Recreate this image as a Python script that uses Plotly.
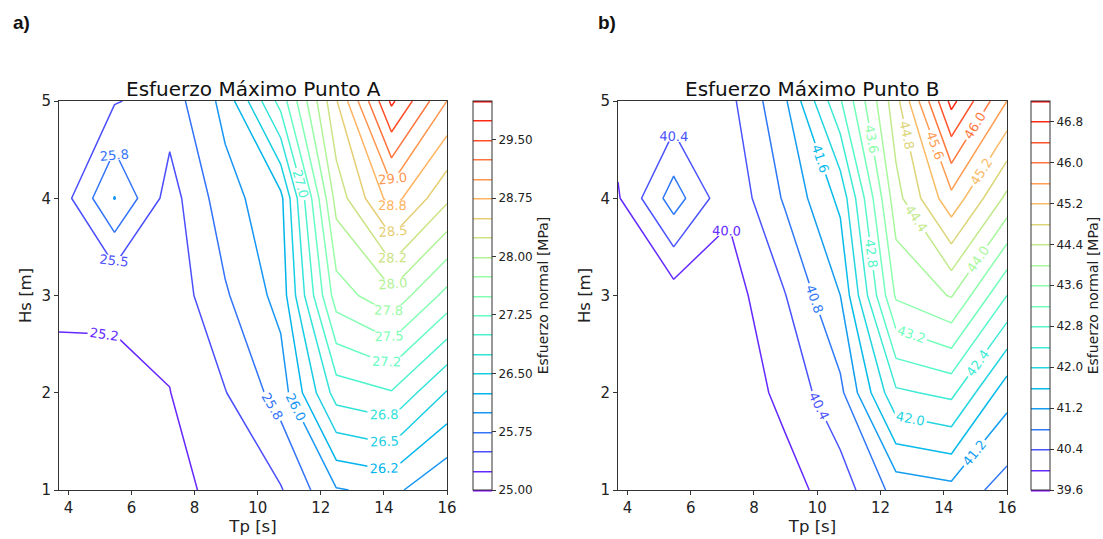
import numpy as np
import plotly.graph_objects as go

# Sea-state grid: peak period (columns) and significant wave height (rows)
tp = [3.7, 5.46, 7.21, 8.97, 10.73, 12.49, 14.24, 16.0]
hs = [1, 2, 3, 4, 5]

# Maximum normal stress at point A [MPa], one row per Hs value
stress_a = [
    [25.02, 25.08, 25.20, 25.30, 25.48, 25.98, 26.07, 25.76],
    [25.15, 25.22, 25.245, 25.49, 25.86, 26.86, 26.98, 26.48],
    [25.31, 25.27, 25.33, 25.72, 26.09, 27.63, 27.93, 27.42],
    [25.35, 26.01, 25.39, 25.90, 26.18, 28.10, 28.86, 28.30],
    [25.30, 25.48, 25.62, 26.08, 27.10, 28.48, 29.80, 29.00],
]

# Maximum normal stress at point B [MPa]
stress_b = [
    [39.62, 39.64, 39.70, 39.85, 40.19, 40.94, 41.07, 40.62],
    [39.68, 39.70, 39.75, 40.10, 40.70, 42.33, 42.50, 41.35],
    [39.75, 39.80, 39.80, 40.38, 41.20, 43.66, 44.03, 42.80],
    [39.96, 41.00, 40.08, 40.85, 41.70, 44.25, 45.48, 44.30],
    [40.20, 40.12, 40.29, 41.13, 42.76, 44.66, 46.93, 45.60],
]

levels_a = (25.0, 30.0, 0.25)
levels_b = (39.6, 47.2, 0.4)
cbar_ticks_a = [25.00, 25.75, 26.50, 27.25, 28.00, 28.75, 29.50]
cbar_ticks_b = [39.6, 40.4, 41.2, 42.0, 42.8, 43.6, 44.4, 45.2, 46.0, 46.8]
x_ticks = [4, 6, 8, 10, 12, 14, 16]
y_ticks = [1, 2, 3, 4, 5]

W, H = 1103, 539
FONT = "DejaVu Sans"


def rainbow(v):
    v = min(max(v, 0.0), 1.0)
    r = min(1.0, abs(2 * v - 0.5))
    g = min(1.0, max(0.0, np.sin(np.pi * v)))
    b = min(1.0, max(0.0, np.cos(np.pi * v / 2)))
    return f"rgb({round(r * 255)},{round(g * 255)},{round(b * 255)})"


def scale_for(lo, hi, vmin, vmax, n=41):
    """Colorscale for a trace whose levels run lo..hi, coloured on the vmin..vmax rainbow."""
    out = []
    for i in range(n):
        t = i / (n - 1)
        lev = lo + t * (hi - lo)
        out.append([t, rainbow((lev - vmin) / (vmax - vmin))])
    return out


def px_x(p):
    return p / W


def px_y(p):
    return 1 - p / H


fig = go.Figure()


def add_panel(z, levels, xa, ya, groups, cbar_x, ticks, tickfmt):
    vmin, vmax, step = levels
    # labelled contour lines, split so every label reads like the level it marks
    for start, size, count in groups:
        end = start + size * (count - 1)
        fig.add_trace(go.Contour(
            x=tp, y=hs, z=z, xaxis=xa, yaxis=ya,
            autocontour=False,
            contours=dict(coloring="lines", start=start, end=end, size=size,
                          showlabels=True, labelformat=".1f",
                          labelfont=dict(family=FONT, size=13)),
            line=dict(width=1.5, smoothing=0),
            colorscale=scale_for(start, end, vmin, vmax),
            showscale=False, hoverinfo="skip",
        ))
    # colour bar carrying every level
    fig.add_trace(go.Contour(
        x=tp, y=hs, z=z, xaxis=xa, yaxis=ya,
        autocontour=False, opacity=0,
        contours=dict(coloring="lines", start=vmin, end=vmax, size=step, showlabels=False),
        line=dict(width=1.5, smoothing=0),
        colorscale=scale_for(vmin, vmax, vmin, vmax),
        showscale=True, hoverinfo="skip",
        colorbar=dict(
            x=px_x(cbar_x), xanchor="left", xpad=0, ypad=0,
            y=px_y(490), yanchor="bottom", len=389 / H, lenmode="fraction",
            thickness=19, thicknessmode="pixels",
            outlinewidth=1, outlinecolor="#333",
            tickmode="array", tickvals=ticks, ticktext=[tickfmt.format(t) for t in ticks],
            ticks="outside", ticklen=4, tickcolor="#333",
            tickfont=dict(family=FONT, size=12, color="#222"),
            title=dict(text="Esfuerzo normal [MPa]", side="right",
                       font=dict(family=FONT, size=14, color="#222")),
        ),
    ))


eps = 1e-7
groups_a = [
    (25.0, 0.5, 11),          # 25.0, 25.5, ... 30.0
    (25.25 - eps, 1.0, 5),    # 25.25, 26.25, ...
    (25.75 + eps, 1.0, 5),    # 25.75, 26.75, ...
]
groups_b = [(39.6, 0.4, 20)]

add_panel(stress_a, levels_a, "x", "y", groups_a, 473, cbar_ticks_a, "{:.2f}")
add_panel(stress_b, levels_b, "x2", "y2", groups_b, 1031, cbar_ticks_b, "{:.1f}")

axis_common = dict(
    showline=True, mirror=True, linecolor="#333", linewidth=1,
    ticks="outside", ticklen=4, tickcolor="#333", showgrid=False, zeroline=False,
    tickfont=dict(family=FONT, size=15, color="#222"), automargin=False,
)
ydom = [px_y(490), px_y(101)]
title_font = dict(family=FONT, size=16.5, color="#222")


def note(text, x, y, font):
    return dict(text=text, x=px_x(x), y=px_y(y), xref="paper", yref="paper",
                xanchor="center", yanchor="middle", showarrow=False, font=font)


fig.update_layout(
    width=W, height=H, margin=dict(l=0, r=0, t=0, b=0),
    paper_bgcolor="white", plot_bgcolor="white", showlegend=False,
    xaxis=dict(domain=[px_x(59), px_x(447)], range=[3.7, 16.0], tickvals=x_ticks,
               title=dict(text="Tp [s]", font=title_font, standoff=1),
               anchor="y", **axis_common),
    yaxis=dict(domain=ydom, range=[1, 5], tickvals=y_ticks,
               title=dict(text="Hs [m]", font=title_font, standoff=5),
               anchor="x", **axis_common),
    xaxis2=dict(domain=[px_x(618), px_x(1007)], range=[3.7, 16.0], tickvals=x_ticks,
                title=dict(text="Tp [s]", font=title_font, standoff=1),
                anchor="y2", **axis_common),
    yaxis2=dict(domain=ydom, range=[1, 5], tickvals=y_ticks,
                title=dict(text="Hs [m]", font=title_font, standoff=5),
                anchor="x2", **axis_common),
    annotations=[
        note("Esfuerzo Máximo Punto A", 253, 89, dict(family=FONT, size=20, color="#111")),
        note("Esfuerzo Máximo Punto B", 812, 89, dict(family=FONT, size=20, color="#111")),
        note("<b>a)</b>", 21, 22, dict(family="Liberation Sans", size=19, color="#111")),
        note("<b>b)</b>", 607, 22, dict(family="Liberation Sans", size=19, color="#111")),
    ],
)

fig.write_html("out.html")
